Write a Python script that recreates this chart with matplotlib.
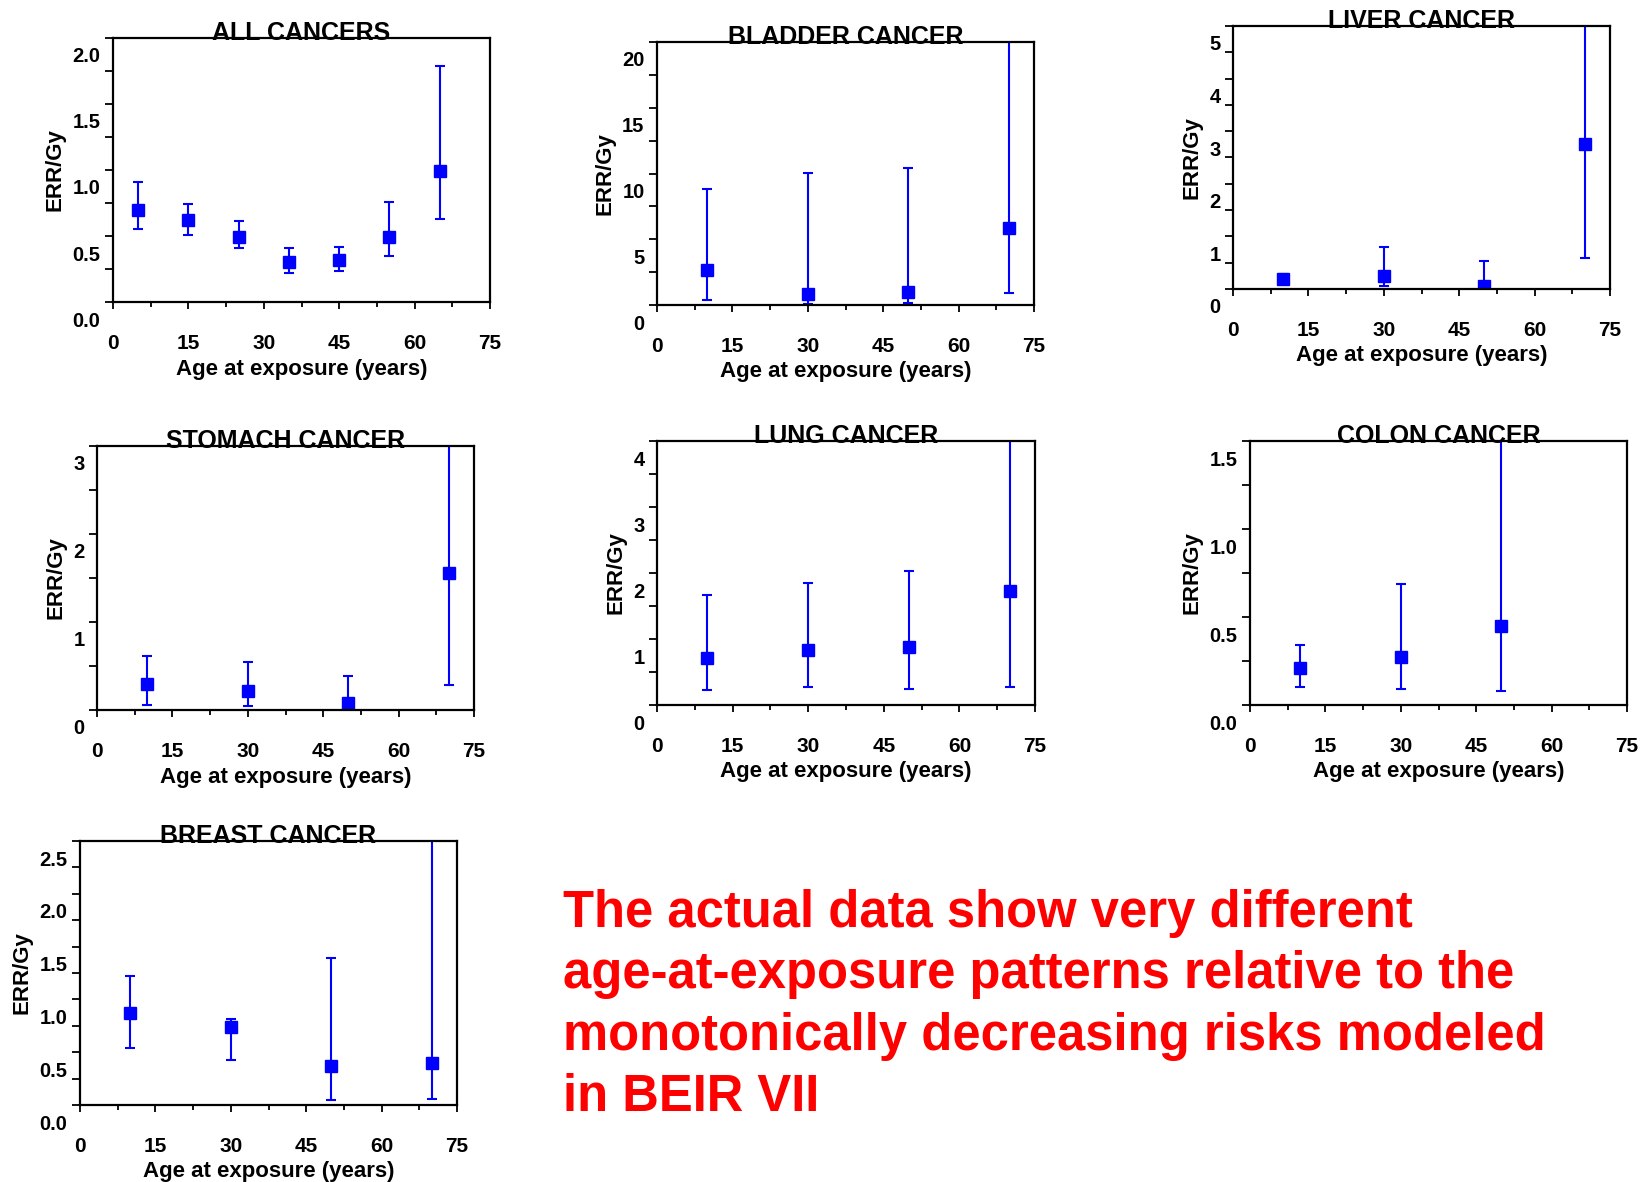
import matplotlib
matplotlib.use("Agg")
import matplotlib.pyplot as plt
import matplotlib.transforms as mtransforms
from matplotlib.ticker import MultipleLocator, FormatStrFormatter

plt.rcParams['font.family'] = ['Liberation Sans', 'DejaVu Sans']
plt.rcParams['font.weight'] = 'bold'

# --- data (ERR/Gy by age at exposure) ---
all_age = [5, 15, 25, 35, 45, 55, 65]
all_err = [0.70, 0.62, 0.49, 0.30, 0.32, 0.49, 0.99]
all_lo = [0.55, 0.51, 0.41, 0.22, 0.235, 0.35, 0.63]
all_hi = [0.91, 0.74, 0.61, 0.41, 0.42, 0.76, 1.79]

bladder_age = [10, 30, 50, 70]
bladder_err = [2.63, 0.81, 0.99, 5.82]
bladder_lo = [0.40, 0.10, 0.18, 0.91]
bladder_hi = [8.85, 10.06, 10.44, 25.0]

liver_age = [10, 30, 50, 70]
liver_err = [0.19, 0.25, 0.06, 2.75]
liver_lo = [0.11, 0.05, 0.0, 0.58]
liver_hi = [0.29, 0.79, 0.54, 6.0]

stomach_age = [10, 30, 50, 70]
stomach_err = [0.30, 0.22, 0.08, 1.56]
stomach_lo = [0.06, 0.045, 0.0, 0.28]
stomach_hi = [0.61, 0.54, 0.39, 4.0]

lung_age = [10, 30, 50, 70]
lung_err = [0.71, 0.84, 0.88, 1.72]
lung_lo = [0.22, 0.27, 0.24, 0.28]
lung_hi = [1.67, 1.85, 2.03, 5.0]

colon_age = [10, 30, 50]
colon_err = [0.21, 0.27, 0.45]
colon_lo = [0.10, 0.09, 0.08]
colon_hi = [0.34, 0.69, 2.0]

breast_age = [10, 30, 50, 70]
breast_err = [0.87, 0.74, 0.37, 0.40]
breast_lo = [0.54, 0.43, 0.05, 0.06]
breast_hi = [1.22, 0.81, 1.39, 3.0]

panels = [
    ("ALL CANCERS", all_age, all_err, all_lo, all_hi, 2.0, 0.5, "%.1f"),
    ("BLADDER CANCER", bladder_age, bladder_err, bladder_lo, bladder_hi, 20, 5, "%d"),
    ("LIVER CANCER", liver_age, liver_err, liver_lo, liver_hi, 5, 1, "%d"),
    ("STOMACH CANCER", stomach_age, stomach_err, stomach_lo, stomach_hi, 3, 1, "%d"),
    ("LUNG CANCER", lung_age, lung_err, lung_lo, lung_hi, 4, 1, "%d"),
    ("COLON CANCER", colon_age, colon_err, colon_lo, colon_hi, 1.5, 0.5, "%.1f"),
    ("BREAST CANCER", breast_age, breast_err, breast_lo, breast_hi, 2.5, 0.5, "%.1f"),
]

# axes boxes in pixels: left, right, top, bottom
W, H = 1645, 1182
boxes = [(113, 490, 38, 302), (657, 1034, 42, 305), (1233, 1610, 26, 289),
         (97, 474, 446, 710), (657, 1035, 441, 705), (1250, 1627, 441, 705),
         (80, 457, 841, 1105)]
minor_y = [0.25, 2.5, 0.5, 0.5, 0.5, 0.25, 0.25]

fig = plt.figure(figsize=(W / 100, H / 100), dpi=100)
blue = "#0000FF"

for (title, x, y, lo, hi, ytop, ymaj, fmt), (l, r, t, b), ymin in zip(panels, boxes, minor_y):
    ax = fig.add_axes([l / W, 1 - b / H, (r - l) / W, (b - t) / H])
    yerr = [[v - a for v, a in zip(y, lo)], [c - v for v, c in zip(y, hi)]]
    ax.errorbar(x, y, yerr=yerr, fmt="s", color=blue, ms=8, elinewidth=1.5,
                capsize=3.5, capthick=1.5, clip_on=True)
    ax.set_xlim(0, 75)
    ax.set_ylim(0, ytop)
    ax.xaxis.set_major_locator(MultipleLocator(15))
    ax.xaxis.set_minor_locator(MultipleLocator(7.5))
    ax.yaxis.set_major_locator(MultipleLocator(ymaj))
    ax.yaxis.set_minor_locator(MultipleLocator(ymin))
    ax.yaxis.set_major_formatter(FormatStrFormatter(fmt))
    ax.tick_params(axis="x", which="major", length=5, width=1.3, pad=18, labelsize=15)
    ax.tick_params(axis="x", which="minor", length=3.5, width=1.3)
    ax.tick_params(axis="y", which="both", length=6, width=1.3, pad=3, labelsize=14.5)
    for s in ax.spines.values():
        s.set_linewidth(1.6)
    # y tick labels sit a little below their ticks
    off = mtransforms.ScaledTranslation(0, -0.17, fig.dpi_scale_trans)
    for lab in ax.get_yticklabels():
        lab.set_transform(lab.get_transform() + off)
    ax.text(0.5, 0.975, title, transform=ax.transAxes, ha="center", va="bottom",
            fontsize=18, fontweight="bold")
    ax.set_xlabel("Age at exposure (years)", fontsize=16, fontweight="bold", labelpad=4)
    ax.set_ylabel("ERR/Gy", fontsize=16, fontweight="bold", labelpad=5)

fig.text(563 / W, 1 - 889 / H,
         "The actual data show very different\nage-at-exposure patterns relative to the\n"
         "monotonically decreasing risks modeled\nin BEIR VII",
         color="#FF0000", fontsize=36.5, fontweight="bold", ha="left", va="top",
         linespacing=1.325)

fig.savefig("out.png", dpi=100)
